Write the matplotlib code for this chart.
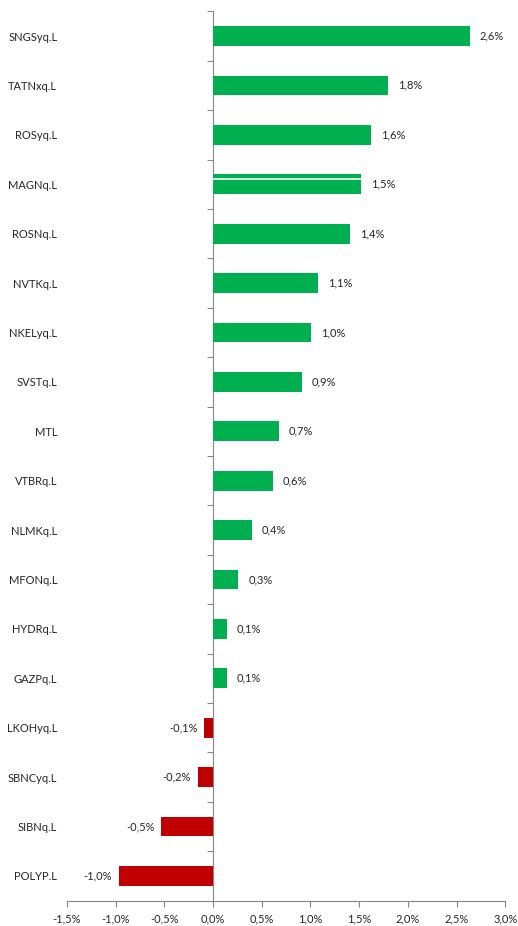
import matplotlib.pyplot as plt

tickers = ["SNGSyq.L", "TATNxq.L", "ROSyq.L", "MAGNq.L", "ROSNq.L", "NVTKq.L",
           "NKELyq.L", "SVSTq.L", "MTL", "VTBRq.L", "NLMKq.L", "MFONq.L",
           "HYDRq.L", "GAZPq.L", "LKOHyq.L", "SBNCyq.L", "SIBNq.L", "POLYP.L"]
changes = [2.64, 1.80, 1.62, 1.52, 1.41, 1.08, 1.01, 0.91, 0.675, 0.61, 0.40,
           0.26, 0.144, 0.14, -0.09, -0.157, -0.53, -0.97]
x_ticks = [-1.5, -1.0, -0.5, 0.0, 0.5, 1.0, 1.5, 2.0, 2.5, 3.0]

plt.rcParams['font.family'] = ['Lato', 'DejaVu Sans']
axis_grey = '#868686'
text_col = '#262626'

fig = plt.figure(figsize=(5.18, 9.26), dpi=100)
ax = fig.add_axes([67 / 518, 25.3 / 926, 438.3 / 518, 889.4 / 926])

ypos = list(range(len(tickers)))
colors = ['#00B050' if v >= 0 else '#C00000' for v in changes]
ax.barh(ypos, changes, height=0.4, color=colors)

# odd white stripe on the MAGN bar, as in the source
mag = tickers.index("MAGNq.L")
ax.hlines(mag - 0.1, 0, changes[mag], color='white', lw=1.2)

for y, v in zip(ypos, changes):
    lbl = f"{v:.1f}%".replace('.', ',')
    if v >= 0:
        ax.annotate(lbl, (v, y), xytext=(7, 0), textcoords='offset points',
                    ha='left', va='center', fontsize=8, color=text_col)
    else:
        ax.annotate(lbl, (v, y), xytext=(-5, 0), textcoords='offset points',
                    ha='right', va='center', fontsize=8, color=text_col)

ax.set_xlim(-1.5, 3.0)
ax.set_ylim(len(tickers) - 0.5, -0.5)
ax.set_xticks(x_ticks)
ax.set_xticklabels([f"{t:.1f}%".replace('.', ',') for t in x_ticks], fontsize=8, color=text_col)
ax.tick_params(axis='x', length=4, color=axis_grey, pad=5)
ax.set_yticks(ypos)
ax.set_yticklabels(tickers, fontsize=8, color=text_col)
ax.tick_params(axis='y', length=0, pad=7)

for s in ['top', 'right', 'left']:
    ax.spines[s].set_visible(False)
ax.spines['bottom'].set_color(axis_grey)

# vertical axis drawn at zero with category boundary ticks
zero_frac = (0 - x_ticks[0]) / (x_ticks[-1] - x_ticks[0])
sec = ax.secondary_yaxis(zero_frac)
sec.set_yticks([i - 0.5 for i in range(len(tickers) + 1)])
sec.set_yticklabels([])
sec.tick_params(length=4, color=axis_grey)
sec.spines['left'].set_color(axis_grey)

fig.savefig('out.png', dpi=100)
